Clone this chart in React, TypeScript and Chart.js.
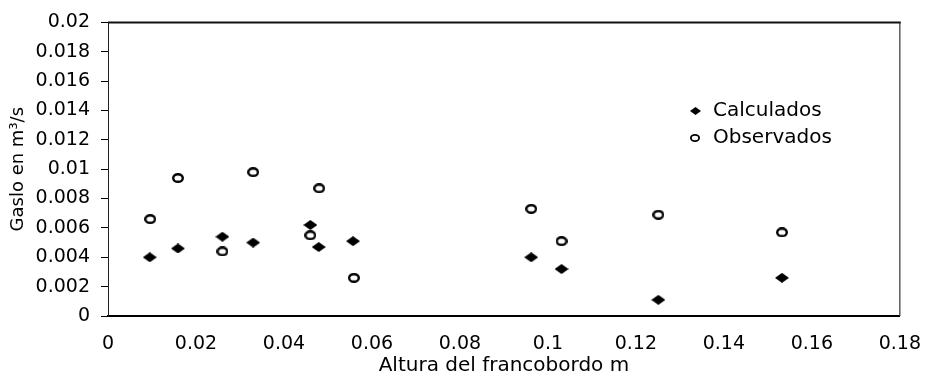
import React, { useEffect, useRef } from 'react';
import { Chart, registerables } from 'chart.js';

Chart.register(...registerables);

// ---- data ----
const calcX = [0.0095, 0.0159, 0.026, 0.033, 0.046, 0.0479, 0.0557, 0.0962, 0.1031, 0.1251, 0.1532];
const calcY = [0.0040, 0.0046, 0.0054, 0.0050, 0.0062, 0.0047, 0.0051, 0.0040, 0.0032, 0.0011, 0.0026];
const obsX = [0.0096, 0.0159, 0.026, 0.033, 0.046, 0.048, 0.0559, 0.0962, 0.1031, 0.1251, 0.1532];
const obsY = [0.0066, 0.0094, 0.0044, 0.0098, 0.0055, 0.0087, 0.0026, 0.0073, 0.0051, 0.0069, 0.0057];

const xTickValues = [0, 0.02, 0.04, 0.06, 0.08, 0.1, 0.12, 0.14, 0.16, 0.18];
const xTickLabels = ['0', '0.02', '0.04', '0.06', '0.08', '0.1', '0.12', '0.14', '0.16', '0.18'];
const yTickValues = [0, 0.002, 0.004, 0.006, 0.008, 0.01, 0.012, 0.014, 0.016, 0.018, 0.02];
const yTickLabels = ['0', '0.002', '0.004', '0.006', '0.008', '0.01', '0.012', '0.014', '0.016', '0.018', '0.02'];

const seriesLabels = ['Calculados', 'Observados'];
const xTitle = 'Altura del francobordo m';
const yTitle = 'Gaslo en m³/s';

const FONT = '"DejaVu Sans", "Liberation Sans", Arial, sans-serif';

function makeDiamond(w: number, h: number): HTMLCanvasElement {
  const c = document.createElement('canvas');
  c.width = w;
  c.height = h;
  const g = c.getContext('2d')!;
  g.fillStyle = '#000';
  g.beginPath();
  g.moveTo(w / 2, 0);
  g.lineTo(w, h / 2);
  g.lineTo(w / 2, h);
  g.lineTo(0, h / 2);
  g.closePath();
  g.fill();
  return c;
}

function makeRing(w: number, h: number, lw: number): HTMLCanvasElement {
  const c = document.createElement('canvas');
  c.width = w;
  c.height = h;
  const g = c.getContext('2d')!;
  g.strokeStyle = '#000';
  g.lineWidth = lw;
  g.beginPath();
  g.ellipse(w / 2, h / 2, w / 2 - lw / 2, h / 2 - lw / 2, 0, 0, Math.PI * 2);
  g.stroke();
  return c;
}

export default function App() {
  const ref = useRef<HTMLCanvasElement | null>(null);

  useEffect(() => {
    document.body.style.margin = '0';
    const canvas = ref.current;
    if (!canvas) return;

    const diamond = makeDiamond(14, 10);
    const ring = makeRing(12, 10, 2.4);
    const legendDiamond = makeDiamond(11, 8);
    const legendRing = makeRing(10, 8, 1.8);

    const framePlugin = {
      id: 'frame',
      beforeDraw(chart: any) {
        const { ctx, width, height } = chart;
        ctx.save();
        ctx.fillStyle = '#fff';
        ctx.fillRect(0, 0, width, height);
        ctx.restore();
      },
      afterDraw(chart: any) {
        const { ctx, chartArea } = chart;
        const { left, right, top, bottom } = chartArea;
        ctx.save();
        ctx.strokeStyle = '#111';
        ctx.lineWidth = 2;
        ctx.beginPath();
        ctx.moveTo(left, top);
        ctx.lineTo(right + 1, top);
        ctx.stroke();
        ctx.lineWidth = 1.2;
        ctx.strokeStyle = '#333';
        ctx.beginPath();
        ctx.moveTo(right, top);
        ctx.lineTo(right, bottom);
        ctx.stroke();
        ctx.restore();
      },
    };

    const legendPlugin = {
      id: 'insideLegend',
      afterDraw(chart: any) {
        const { ctx } = chart;
        const markers = [legendDiamond, legendRing];
        const mx = 695;
        const tx = 713;
        const ys = [111, 138];
        ctx.save();
        ctx.font = `20px ${FONT}`;
        ctx.fillStyle = '#000';
        ctx.textBaseline = 'middle';
        ctx.textAlign = 'left';
        chart.data.datasets.forEach((ds: any, i: number) => {
          const m = markers[i];
          ctx.drawImage(m, Math.round(mx - m.width / 2), Math.round(ys[i] - m.height / 2));
          ctx.fillText(ds.label, tx, ys[i]);
        });
        ctx.restore();
      },
    };

    const chart = new Chart(canvas, {
      type: 'scatter',
      data: {
        datasets: [
          {
            label: seriesLabels[0],
            data: calcX.map((x, i) => ({ x, y: calcY[i] })),
            pointStyle: diamond as any,
            pointRadius: 7,
            backgroundColor: '#000',
            borderColor: '#000',
          },
          {
            label: seriesLabels[1],
            data: obsX.map((x, i) => ({ x, y: obsY[i] })),
            pointStyle: ring as any,
            pointRadius: 7,
            backgroundColor: '#fff',
            borderColor: '#000',
          },
        ],
      },
      options: {
        responsive: false,
        animation: false,
        layout: { padding: { left: 0, top: 18, right: 26, bottom: 0 } },
        plugins: {
          legend: { display: false },
          tooltip: { enabled: false },
        },
        scales: {
          x: {
            type: 'linear',
            min: 0,
            max: 0.18,
            afterBuildTicks: (scale: any) => {
              scale.ticks = xTickValues.map((v) => ({ value: v }));
            },
            afterFit: (scale: any) => {
              scale.height = 59;
            },
            ticks: {
              padding: 17,
              color: '#000',
              font: { family: FONT, size: 19 },
              maxRotation: 0,
              autoSkip: false,
              callback: (_v: any, i: number) => xTickLabels[i],
            },
            grid: { display: true, drawOnChartArea: false, drawTicks: false },
            border: { display: true, color: '#000', width: 2 },
            title: {
              display: true,
              text: xTitle,
              color: '#000',
              font: { family: FONT, size: 20, lineHeight: 0.95 },
              padding: { top: 0, bottom: 0 },
            },
          },
          y: {
            type: 'linear',
            min: 0,
            max: 0.02,
            afterBuildTicks: (scale: any) => {
              scale.ticks = yTickValues.map((v) => ({ value: v }));
            },
            afterFit: (scale: any) => {
              scale.width = 108;
            },
            ticks: {
              padding: 11,
              color: '#000',
              font: { family: FONT, size: 19 },
              autoSkip: false,
              callback: (_v: any, i: number) => yTickLabels[i],
            },
            grid: {
              display: true,
              drawOnChartArea: false,
              drawTicks: true,
              tickLength: 7,
              color: '#000',
              lineWidth: 1,
            },
            border: { display: true, color: '#222', width: 1 },
            title: {
              display: true,
              text: yTitle,
              color: '#000',
              font: { family: FONT, size: 18 },
              padding: { top: 8, bottom: 0 },
            },
          },
        },
      },
      plugins: [framePlugin, legendPlugin],
    });

    return () => chart.destroy();
  }, []);

  return (
    <div style={{ position: 'absolute', left: 0, top: 0, width: 938, height: 375 }}>
      <canvas ref={ref} width={938} height={375} />
    </div>
  );
}
